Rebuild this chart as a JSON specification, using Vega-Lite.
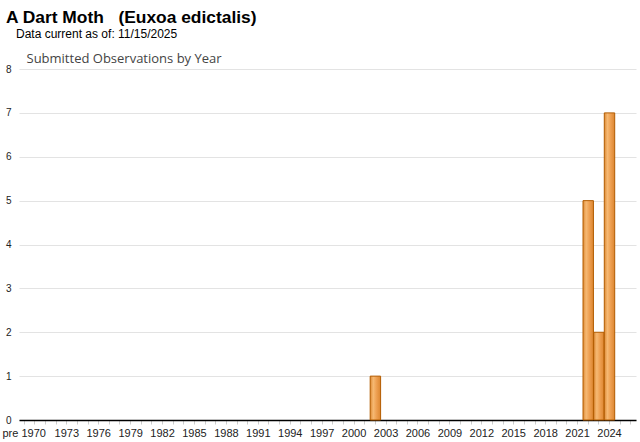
{
  "$schema": "https://vega.github.io/schema/vega-lite/v6.json",
  "autosize": "none",
  "width": 617,
  "height": 351,
  "padding": {"left": 19, "top": 69, "right": 4, "bottom": 22},
  "background": "white",
  "title": {
    "text": "A Dart Moth\u00a0\u00a0\u00a0(Euxoa edictalis)",
    "subtitle": "\u200b\u00a0\u00a0\u00a0Data current as of: 11/15/2025",
    "anchor": "start",
    "frame": "group",
    "dx": -13,
    "offset": 12,
    "font": "Liberation Sans",
    "fontSize": 17.4,
    "fontWeight": "bold",
    "color": "#000000",
    "subtitleFont": "Liberation Sans",
    "subtitleFontSize": 12,
    "subtitleColor": "#000000",
    "subtitlePadding": 3
  },
  "data": {
    "values": [
      {"year": "pre 1970", "count": 0},
      {"year": "1970", "count": 0}, {"year": "1971", "count": 0}, {"year": "1972", "count": 0},
      {"year": "1973", "count": 0}, {"year": "1974", "count": 0}, {"year": "1975", "count": 0},
      {"year": "1976", "count": 0}, {"year": "1977", "count": 0}, {"year": "1978", "count": 0},
      {"year": "1979", "count": 0}, {"year": "1980", "count": 0}, {"year": "1981", "count": 0},
      {"year": "1982", "count": 0}, {"year": "1983", "count": 0}, {"year": "1984", "count": 0},
      {"year": "1985", "count": 0}, {"year": "1986", "count": 0}, {"year": "1987", "count": 0},
      {"year": "1988", "count": 0}, {"year": "1989", "count": 0}, {"year": "1990", "count": 0},
      {"year": "1991", "count": 0}, {"year": "1992", "count": 0}, {"year": "1993", "count": 0},
      {"year": "1994", "count": 0}, {"year": "1995", "count": 0}, {"year": "1996", "count": 0},
      {"year": "1997", "count": 0}, {"year": "1998", "count": 0}, {"year": "1999", "count": 0},
      {"year": "2000", "count": 0}, {"year": "2001", "count": 0}, {"year": "2002", "count": 1},
      {"year": "2003", "count": 0}, {"year": "2004", "count": 0}, {"year": "2005", "count": 0},
      {"year": "2006", "count": 0}, {"year": "2007", "count": 0}, {"year": "2008", "count": 0},
      {"year": "2009", "count": 0}, {"year": "2010", "count": 0}, {"year": "2011", "count": 0},
      {"year": "2012", "count": 0}, {"year": "2013", "count": 0}, {"year": "2014", "count": 0},
      {"year": "2015", "count": 0}, {"year": "2016", "count": 0}, {"year": "2017", "count": 0},
      {"year": "2018", "count": 0}, {"year": "2019", "count": 0}, {"year": "2020", "count": 0},
      {"year": "2021", "count": 0}, {"year": "2022", "count": 5}, {"year": "2023", "count": 2},
      {"year": "2024", "count": 7}, {"year": "2025", "count": 0}, {"year": "2026", "count": 0}
    ]
  },
  "mark": {
    "type": "bar",
    "stroke": "#b35c00",
    "strokeWidth": 1,
    "color": {
      "gradient": "linear",
      "x1": 0, "y1": 0, "x2": 1, "y2": 0,
      "stops": [
        {"offset": 0, "color": "#dd8a35"},
        {"offset": 0.3, "color": "#f6b973"},
        {"offset": 0.6, "color": "#eea052"},
        {"offset": 1, "color": "#dc8630"}
      ]
    }
  },
  "encoding": {
    "x": {
      "field": "year",
      "type": "ordinal",
      "sort": null,
      "scale": {"paddingInner": 0.02, "paddingOuter": 0},
      "axis": {
        "title": null,
        "labelAngle": 0,
        "labelFont": "Liberation Sans",
        "labelFontSize": 11,
        "labelColor": "#222222",
        "labelPadding": 3,
        "labelOverlap": false,
        "labelExpr": "datum.value == 'pre 1970' ? 'pre 1970' : ((toNumber(datum.value) - 1970) % 3 == 0 && datum.value != '1970' ? datum.value : '')",
        "ticks": true,
        "tickSize": 4,
        "tickColor": "#cccccc",
        "domainColor": "#000000",
        "domainWidth": 1.5,
        "grid": false
      }
    },
    "y": {
      "field": "count",
      "type": "quantitative",
      "scale": {"domain": [0, 8], "nice": false},
      "axis": {
        "title": "Submitted Observations by Year",
        "titleAngle": 0,
        "titleAlign": "left",
        "titleBaseline": "alphabetic",
        "titleX": 7,
        "titleY": -7,
        "titleFont": "Open Sans",
        "titleFontSize": 13,
        "titleFontWeight": "normal",
        "titleColor": "#444444",
        "values": [0, 1, 2, 3, 4, 5, 6, 7, 8],
        "labelFont": "Liberation Sans",
        "labelFontSize": 10,
        "labelColor": "#222222",
        "labelPadding": 8,
        "ticks": false,
        "domain": false,
        "grid": true,
        "gridColor": "#e3e3e3",
        "gridWidth": 1
      }
    },
    "strokeOpacity": {"condition": {"test": "datum.count == 0", "value": 0}, "value": 1}
  },
  "config": {"view": {"stroke": null}}
}
